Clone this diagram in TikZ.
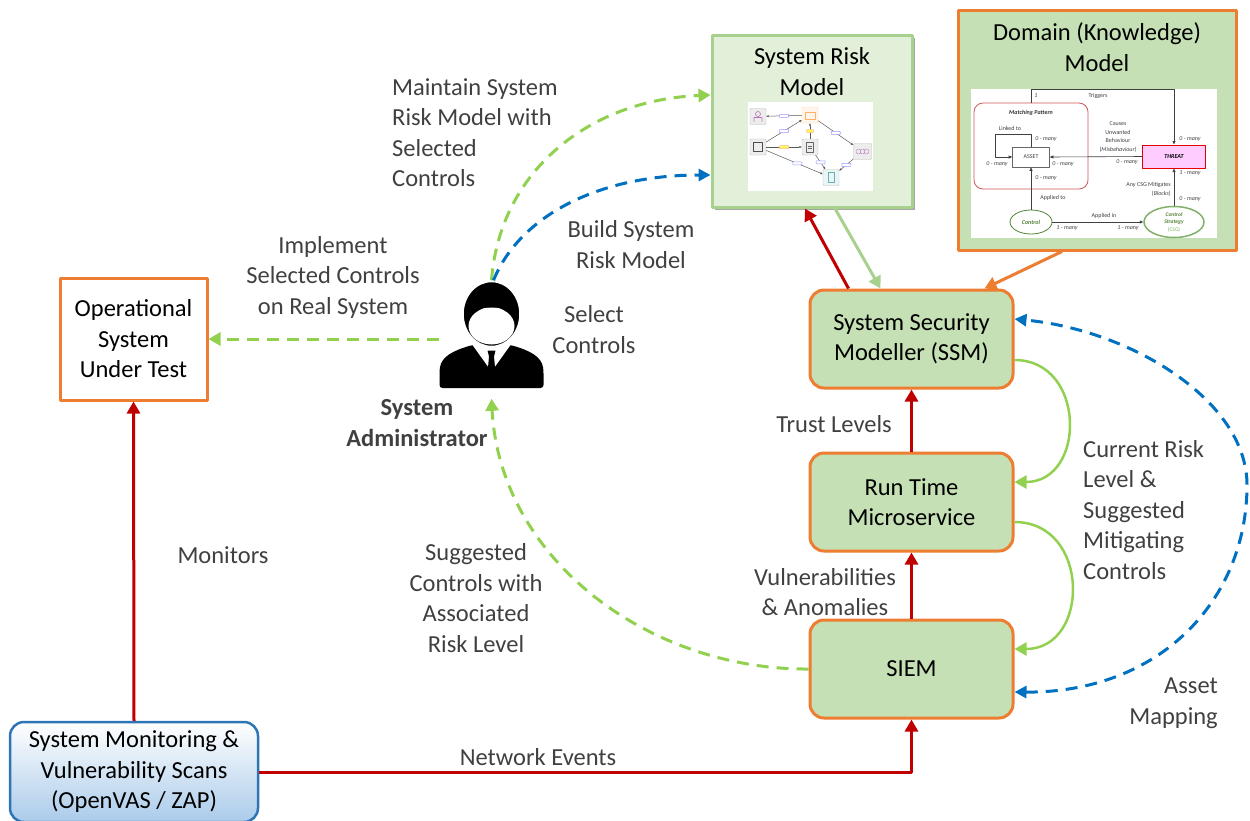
\documentclass[tikz,border=0pt]{standalone}
\usepackage{fontspec}
\setmainfont{Carlito}
\usepackage{tikz}
\usetikzlibrary{arrows.meta,positioning,shapes.geometric,shadows}
\definecolor{sysorange}{RGB}{237,125,49}
\definecolor{boxgreen}{RGB}{197,224,180}
\definecolor{srmfill}{RGB}{226,240,217}
\definecolor{srmedge}{RGB}{169,209,142}
\definecolor{flowred}{RGB}{192,0,0}
\definecolor{limegreen}{RGB}{146,208,80}
\definecolor{flowblue}{RGB}{0,112,192}
\definecolor{labelgray}{RGB}{64,64,64}
\definecolor{monblue}{RGB}{46,117,182}
\definecolor{monfill}{RGB}{170,203,234}
\definecolor{patred}{RGB}{205,85,85}
\definecolor{threatpink}{RGB}{255,204,255}
\definecolor{ctrlgreen}{RGB}{84,130,53}
\definecolor{csggreen}{RGB}{130,175,105}
\tikzset{
  box/.style={draw=sysorange, line width=3pt, fill=boxgreen, rounded corners=14pt,
    minimum width=203pt, minimum height=98pt, align=center},
  plainbox/.style={draw=sysorange, line width=3pt, align=center},
  lbl/.style={text=labelgray, align=center, inner sep=0pt},
  boldlbl/.style={lbl, font=\fontsize{24.5}{30.5}\selectfont\bfseries},
  redflow/.style={-{Triangle[length=12pt,width=13pt]}, draw=flowred, line width=3pt},
  greendash/.style={-{Triangle[length=12pt,width=13pt]}, draw=limegreen, line width=3pt,
    dash pattern=on 12pt off 8pt},
  bluedash/.style={-{Triangle[length=12pt,width=12pt]}, draw=flowblue, line width=3pt,
    dash pattern=on 12pt off 8pt},
  greencurve/.style={-{Triangle[length=12pt,width=13pt]}, draw=limegreen, line width=2.5pt},
  % thumbnails
  smalltxt/.style={font=\fontsize{6}{8.6}\selectfont, text=labelgray, inner sep=0pt, align=center},
  mult/.style={smalltxt, font=\fontsize{6}{8.6}\selectfont\itshape},
  minarrow/.style={-{Triangle[length=3.5pt,width=3pt]}, draw=black!75, line width=0.6pt},
  icon/.style={draw=black!25, fill=black!7, rounded corners=1pt, minimum size=16pt, inner sep=0pt},
  srmarrow/.style={-{Triangle[length=2.5pt,width=2pt]}, draw=black!65, line width=0.5pt},
  tag/.style={draw=blue!40, fill=white, rounded corners=0.5pt, minimum width=9pt,
    minimum height=3pt, inner sep=0pt}
}
\begin{document}
\begin{tikzpicture}[x=1pt, y=-1pt, font=\fontsize{24.5}{30.5}\selectfont, line join=round]
  \useasboundingbox (0,0) rectangle (1250,820);

  % main boxes
  \node[plainbox, minimum width=147pt, minimum height=122pt] (ost) at (133.5,339) {Operational\\System\\Under Test};
  \node[draw=monblue, line width=2.5pt, rounded corners=14pt, top color=white, bottom color=monfill,
    minimum width=248pt, minimum height=100pt, align=center] (mon) at (134,772)
    {System Monitoring \&\\Vulnerability Scans\\(OpenVAS / ZAP)};
  \node[box] (ssm) at (911.5,339) {System Security\\Modeller (SSM)};
  \node[box, below=62pt of ssm] (rtm) {Run Time\\Microservice};
  \node[box, below=66pt of rtm] (siem) {SIEM};

  % system risk model
  \node[draw=srmedge, line width=3pt, fill=srmfill, minimum width=200pt, minimum height=172pt,
    drop shadow={shadow xshift=3pt, shadow yshift=-3pt, opacity=0.35, fill=black}] (srm) at (812,121) {};
  \node[align=center] (srmtitle) at (812,71.5) {System Risk\\Model};
  \node[fill=white, minimum width=125pt, minimum height=89pt, inner sep=0pt] (srmimg) at (810.5,146.5) {};
  \node[icon] (sp) at (758,116.5) {};
  \node[icon, fill=orange!8, draw=orange!30] (sf) at (810,115) {};
  \node[icon] (sl) at (758,147) {};
  \node[icon] (sm) at (810,147) {};
  \node[icon, minimum width=18pt] (sr) at (862.5,151.5) {};
  \node[icon, fill=teal!8] (sb) at (831,177.5) {};
  \draw[srmarrow] (sf) -- (sp) node[tag, midway] (t1) {};
  \draw[srmarrow] (sl) -- (sf) node[tag, midway] (t2) {};
  \draw[srmarrow] (sl) -- (sm) node[tag, midway, fill=yellow!60, draw=orange!50] (t3) {};
  \draw[srmarrow] (sm) -- (sf) node[tag, midway, fill=yellow!60, draw=orange!50, minimum width=7pt] (t4) {};
  \draw[srmarrow] (sf) -- (sr) node[tag, midway] (t5) {};
  \draw[srmarrow] (sl) -- (sb) node[tag, pos=0.55] (t6) {};
  \draw[srmarrow] (sm) -- (sb) node[tag, midway] (t7) {};
  \draw[srmarrow] (sr) -- (sb) node[tag, midway] (t8) {};
  \draw[violet!55, line width=0.6pt] ([yshift=2.5pt]sp.center) circle[radius=2.5pt]
    ([shift={(-4,5)}]sp.center) -- ([shift={(-4,1)}]sp.center) -- ([shift={(4,1)}]sp.center) -- ([shift={(4,5)}]sp.center);
  \draw[orange!60, line width=0.6pt] ([shift={(-5,-3)}]sf.center) rectangle ([shift={(5,4)}]sf.center);
  \draw[black!70, line width=0.6pt] ([shift={(-4.5,-4.5)}]sl.center) rectangle ([shift={(4.5,4.5)}]sl.center);
  \draw[black!60, line width=0.5pt] ([shift={(-3.5,-5)}]sm.center) rectangle ([shift={(3.5,5)}]sm.center)
    ([shift={(-2,-1)}]sm.center) -- ([shift={(2,-1)}]sm.center) ([shift={(-2,1.5)}]sm.center) -- ([shift={(2,1.5)}]sm.center);
  \foreach \dx in {-4,0,4}
    \draw[violet!45, line width=0.5pt] ([xshift=\dx pt]sr.center) circle[radius=2.5pt];
  \draw[teal!60, line width=0.8pt] ([shift={(-3,-5)}]sb.center) rectangle ([shift={(3,5)}]sb.center);

  % domain model
  \node[plainbox, fill=boxgreen, minimum width=278pt, minimum height=240pt] (dom) at (1097,130) {};
  \node[align=center] (domtitle) at (1097,47) {Domain (Knowledge)\\Model};
  \node[fill=white, minimum width=246pt, minimum height=149pt, inner sep=0pt] (domimg) at (1094,163.5) {};
  \node[draw=patred, line width=0.8pt, rounded corners=9pt, minimum width=114pt, minimum height=86pt] (mpat) at (1031,146) {};
  \node[smalltxt, text=black!80, font=\fontsize{6}{8.6}\selectfont\bfseries\itshape] (mpatlbl) at (1031,113) {Matching Pattern};
  \node[draw=black!60, line width=0.6pt, minimum width=37pt, minimum height=20pt, smalltxt] (asset) at (1031,157) {ASSET};
  \node[draw=red!90!black, fill=threatpink, line width=1pt, minimum width=63pt, minimum height=23pt,
    smalltxt, text=black, font=\fontsize{6}{8.6}\selectfont\bfseries\itshape] (threat) at (1174,156.5) {THREAT};
  \node[ellipse, draw=ctrlgreen, line width=0.8pt, minimum width=42pt, minimum height=24pt, inner sep=0pt,
    text=ctrlgreen, font=\fontsize{6}{8.6}\selectfont\bfseries\itshape] (ctrl) at (1031,222) {Control};
  \node[ellipse, draw=csggreen, line width=1.5pt, minimum width=60pt, minimum height=31pt, inner sep=-2pt,
    align=center, text=ctrlgreen, font=\fontsize{5.5}{7.5}\selectfont] (csg) at (1174,222)
    {\textbf{\textit{Control}}\\\textbf{\textit{Strategy}}\\\textcolor{csggreen}{(CSG)}};
  \draw[minarrow] (threat.west) -- (asset.east);
  \draw[minarrow] (asset.north) -- ++(0,-12) -| ([xshift=-17pt]asset.west) -- (asset.west);
  \draw[minarrow] (mpat.north) -- ++(0,-13) -| (threat.north);
  \draw[minarrow] (ctrl.north) -- (asset.south);
  \draw[minarrow] (ctrl.east) -- (csg.west);
  \draw[minarrow] (csg.north) -- (threat.south);
  \foreach \x/\y/\t [count=\i] in {1190/139/0 - many, 1046/139/0 - many, 997/164/0 - many,
      1063/164/0 - many, 1127/162/0 - many, 1046/178/0 - many, 1190/173/1 - many,
      1190/199/0 - many, 1067/228/1 - many, 1128/228/1 - many, 1036/96/1}
    \node[mult] (mult\i) at (\x,\y) {\t};
  \node[smalltxt] (ltrig) at (1098,96) {Triggers};
  \node[smalltxt] (llink) at (1010,128) {Linked to};
  \node[smalltxt] (lcause) at (1118,137) {Causes\\Unwanted\\Behaviour\\(\textit{Misbehaviour})};
  \node[smalltxt] (lapto) at (1053,198) {Applied to};
  \node[smalltxt] (lapin) at (1104,216) {Applied in};
  \node[smalltxt, align=right, anchor=east] (lmitig) at (1171,189.5) {Any CSG Mitigates\\(\textit{Blocks})};

  % administrator
  \node[minimum width=104pt, minimum height=108pt, inner sep=0pt] (admin) at (491.5,334.5) {};
  \begin{scope}[shift={(admin.center)}]
    \fill[rounded corners=3pt] (-52,53.5) -- (-52,36) .. controls (-50,22) and (-38,16) .. (-19,10.5)
      -- (19,10.5) .. controls (38,16) and (50,22) .. (52,36) -- (52,53.5) -- cycle;
    \fill[white] (-19,10.5) -- (19,10.5) -- (0,37) -- cycle;
    \fill (-4,16) -- (4,16) -- (2.5,22) -- (4.5,44) -- (0,48) -- (-4.5,44) -- (-2.5,22) -- cycle;
    \filldraw[draw=white, line width=2.5pt] (0,-20.5) ellipse [x radius=29pt, y radius=33pt];
    \fill[white] (0,-8.5) ellipse [x radius=23pt, y radius=18.5pt];
    \fill[white] (-20,-14) .. controls (-14,-26) and (-6,-28) .. (0,-26)
      .. controls (6,-28) and (14,-26) .. (20,-14) -- cycle;
  \end{scope}

  % connectors
  \draw[redflow] (mon.north) -- (ost.south);
  \draw[redflow] (mon.east) -| (siem.south);
  \draw[redflow] (siem.north) -- (rtm.south);
  \draw[redflow] (rtm.north) -- (ssm.south);
  \draw[redflow] ([xshift=-63pt]ssm.north) -- ([xshift=-7pt]srm.south);
  \draw[-{Triangle[length=12pt,width=13pt]}, draw=srmedge, line width=3pt] ([xshift=23pt]srm.south) -- ([xshift=-31pt]ssm.north);
  \draw[-{Triangle[length=12pt,width=13pt]}, draw=sysorange, line width=3pt] ([xshift=-35pt]dom.south) -- ([xshift=73pt]ssm.north);
  \draw[greencurve] ([yshift=-21pt]ssm.east) .. controls +(72,0) and +(72,0) .. ([yshift=20pt]rtm.east);
  \draw[greencurve] ([yshift=-20pt]rtm.east) .. controls +(76,0) and +(76,0) .. ([yshift=20pt]siem.east);
  \coordinate (amap) at (1247,485);
  \draw[bluedash, {Triangle[length=12pt,width=12pt]}-{Triangle[length=12pt,width=12pt]}]
    ([yshift=-23pt]siem.east) .. controls (1160,693) and (1247,600) .. (amap)
    .. controls (1247,400) and (1130,330) .. ([yshift=20pt]ssm.east);
  \draw[greendash] (admin.west |- ost.east) -- (ost.east);
  \draw[greendash] (admin.north) .. controls (500,170) and (590,100) .. ([yshift=26pt]srm.west);
  \draw[bluedash] ([xshift=2pt]admin.north) .. controls (520,215) and (600,175) .. ([yshift=-54pt]srm.west);
  \draw[greendash] (siem.west) .. controls (650,670) and (500,560) .. ([yshift=-10pt]admin.south);

  % labels
  \node[lbl, align=left, anchor=west] (lmaintain) at (392,132.5) {Maintain System\\Risk Model with\\Selected\\Controls};
  \node[lbl] (lbuild) at (631,244.5) {Build System\\Risk Model};
  \node[lbl] (limpl) at (333,277) {Implement\\Selected Controls\\on Real System};
  \node[lbl] (lselect) at (594,329.5) {Select\\Controls};
  \node[boldlbl] (ladmin) at (417,423) {System\\Administrator};
  \node[lbl] (lmon) at (223,555) {Monitors};
  \node[lbl] (lsugg) at (476,598) {Suggested\\Controls with\\Associated\\Risk Level};
  \node[lbl] (lvuln) at (825,592) {Vulnerabilities\\\& Anomalies};
  \node[lbl] (ltrust) at (834,424) {Trust Levels};
  \node[lbl] (lnet) at (538,757) {Network Events};
  \node[lbl, align=left, anchor=west] (lrisk) at (1083,510) {Current Risk\\Level \&\\Suggested\\Mitigating\\Controls};
  \node[lbl, align=right, anchor=east] (lasset) at (1218,703) {Asset\\Mapping};
\end{tikzpicture}
\end{document}
